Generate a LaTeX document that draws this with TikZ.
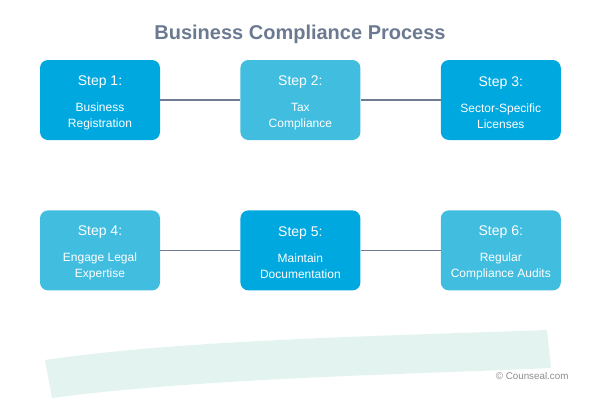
\documentclass[tikz,border=0pt]{standalone}
\usepackage{fontspec}
\setmainfont{Liberation Sans}
\usetikzlibrary{positioning}
\definecolor{stepdark}{HTML}{00A8E0}
\definecolor{steplight}{HTML}{41BDE0}
\definecolor{linkgray}{HTML}{6F7C93}
\definecolor{titlegray}{HTML}{6B7A90}
\definecolor{swoosh}{HTML}{E3F3EF}
\newcommand{\stephead}[1]{\rule{0pt}{15pt}{\fontsize{14}{16}\selectfont #1}\\[10pt]}
\begin{document}
\begin{tikzpicture}[x=1pt, y=-1pt,
	box/.style={rectangle, rounded corners=8pt, draw=none, text=white, align=center,
		minimum width=120pt, minimum height=80pt, inner sep=0pt,
		font=\fontsize{12}{16}\selectfont},
	dk/.style={box, fill=stepdark},
	lt/.style={box, fill=steplight},
	link/.style={draw=linkgray, line width=1.8pt},
	node distance=80pt and 80pt,
	]
	\useasboundingbox (0,0) rectangle (600,400);
	
	%Background band
	\fill[swoosh] (45,360) .. controls (180,340) and (380,336) .. (547,330)
		-- (551,368) .. controls (420,374) and (200,378) .. (52,398) -- cycle;
	
	%Title
	\node[text=titlegray, font=\fontsize{20}{24}\bfseries\selectfont] (title) at (300,34) {Business Compliance Process};
	
	%Nodes
	\node[dk]   (s1) at (100,100)               {\stephead{Step 1:}Business\\Registration};
	\node[lt]   (s2)        [right = of s1]     {\stephead{Step 2:}Tax\\Compliance};
	\node[dk]   (s3)        [right = of s2]     {\stephead{Step 3:}Sector-Specific\\Licenses};
	\node[lt]   (s4)        [below = 70pt of s1] {\stephead{Step 4:}Engage Legal\\Expertise};
	\node[dk]   (s5)        [right = of s4]     {\stephead{Step 5:}Maintain\\Documentation};
	\node[lt]   (s6)        [right = of s5]     {\stephead{Step 6:}Regular\\Compliance Audits};
	
	%Lines
	\draw[link] (s1.east) -- (s2.west);
	\draw[link] (s2.east) -- (s3.west);
	\draw[link] (s4.east) -- (s5.west);
	\draw[link] (s5.east) -- (s6.west);
	
	%Credit
	\node[text=black!45, font=\fontsize{9.8}{12}\selectfont, anchor=east] (credit) at (572,376) {\textcopyright\ Counseal.com};
\end{tikzpicture}
\end{document}
